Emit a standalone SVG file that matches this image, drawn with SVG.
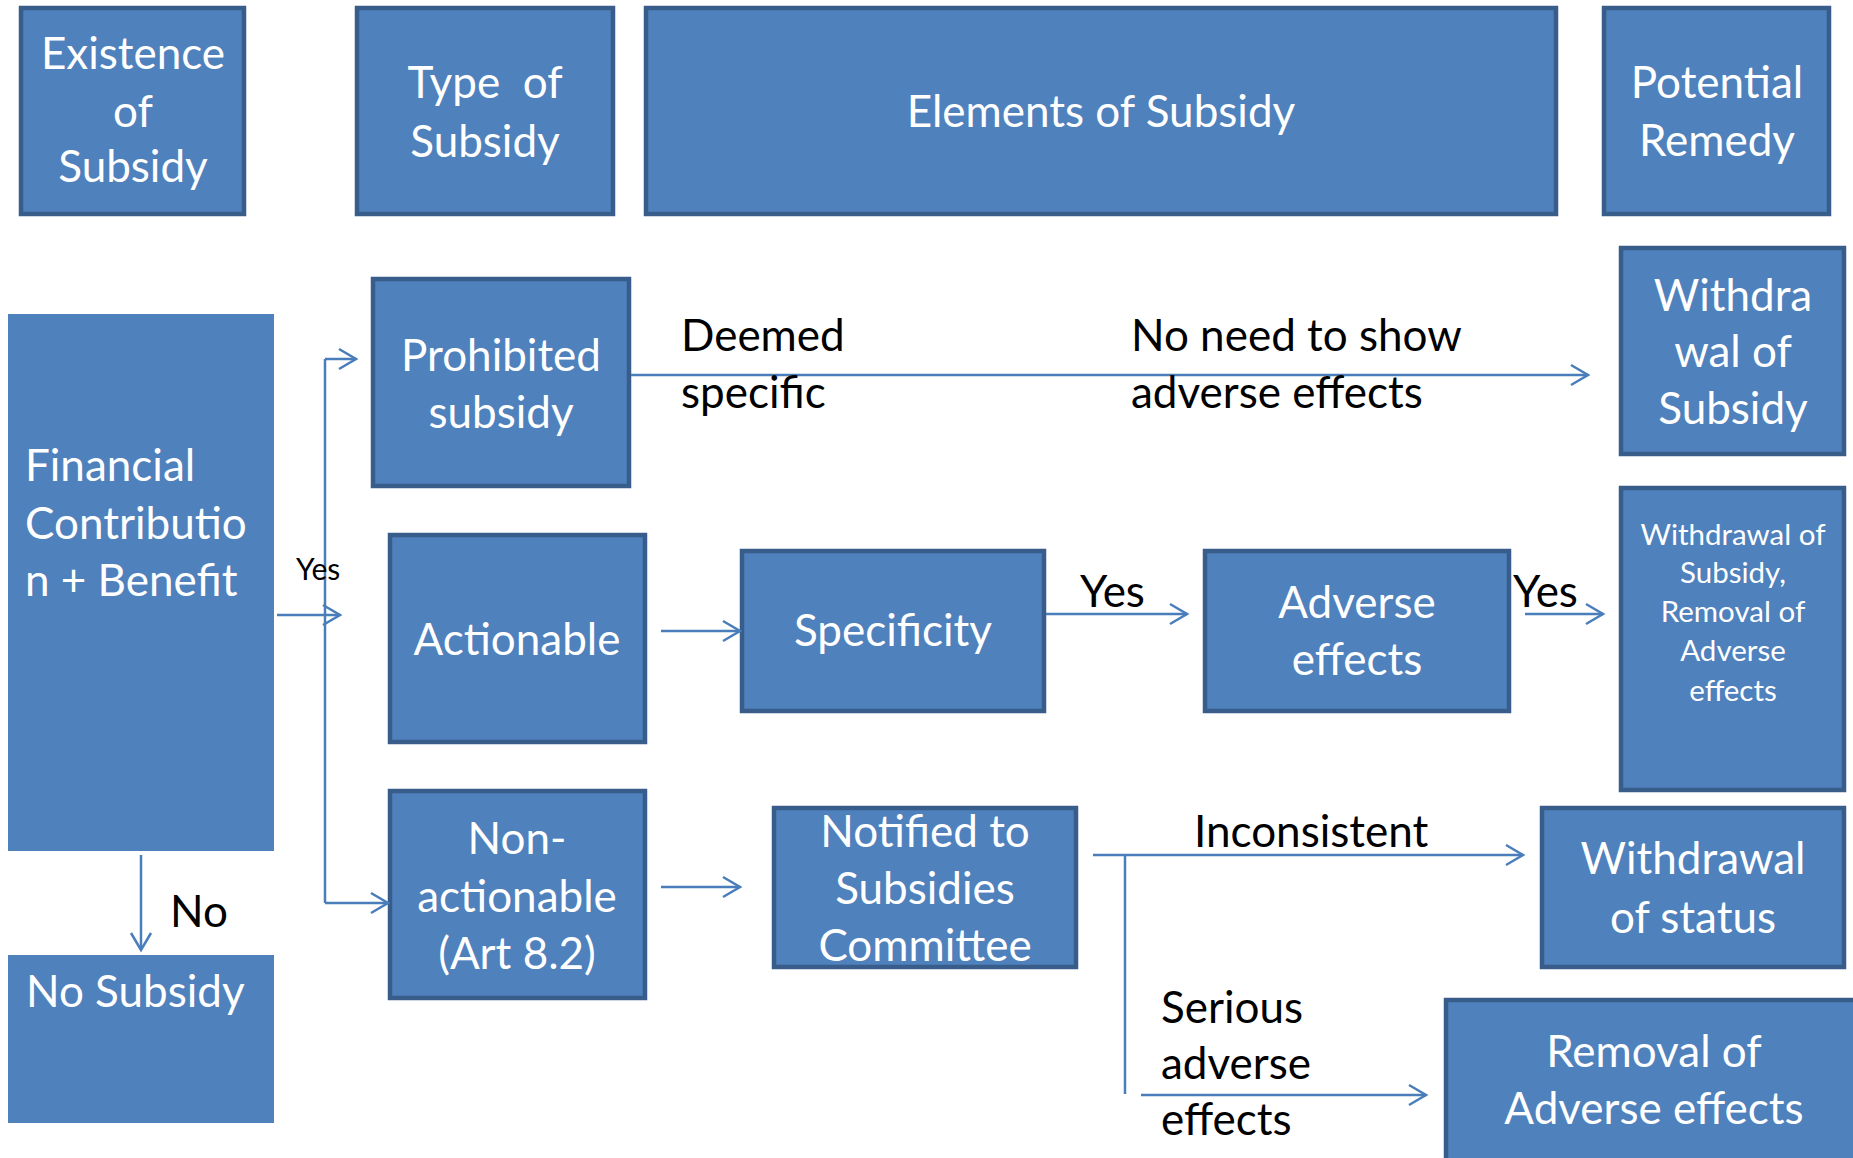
<svg xmlns="http://www.w3.org/2000/svg" width="1853" height="1158" viewBox="0 0 1853 1158">
<style>
.box{fill:#4f81bd;stroke:#385d8a;stroke-width:4.5}
.plain{fill:#4f81bd}
.wt{fill:#ffffff;font-family:Lato,"Liberation Sans",sans-serif;font-size:44px}
.ws{fill:#ffffff;font-family:Lato,"Liberation Sans",sans-serif;font-size:29.5px}
.c{text-anchor:middle}
.lb{fill:#000000;font-family:Lato,"Liberation Sans",sans-serif;font-size:44px}
.lbs{fill:#000000;font-family:Lato,"Liberation Sans",sans-serif;font-size:30px}
.ln{fill:none;stroke:#4a7ebb;stroke-width:2.5}
.arr{marker-end:url(#ah)}
</style>
<defs>
<marker id="ah" markerUnits="userSpaceOnUse" markerWidth="24" markerHeight="24" viewBox="-20 -12 24 24" refX="0" refY="0" orient="auto">
<path d="M-17,-10 L0,0 L-17,10" fill="none" stroke="#4a7ebb" stroke-width="2.5"/>
</marker>
</defs>
<rect width="1853" height="1158" fill="#ffffff"/>

<g id="existence">
<rect class="box" x="21" y="8" width="223" height="206"/>
<text class="wt c" x="133" y="69">Existence</text>
<text class="wt c" x="133" y="127">of</text>
<text class="wt c" x="133" y="182">Subsidy</text>
</g>
<g id="type">
<rect class="box" x="357" y="8" width="256" height="206"/>
<text class="wt c" x="485" y="98" xml:space="preserve">Type  of</text>
<text class="wt c" x="485" y="157">Subsidy</text>
</g>
<g id="elements">
<rect class="box" x="646" y="8" width="910" height="206"/>
<text class="wt c" x="1101" y="127">Elements of Subsidy</text>
</g>
<g id="potential">
<rect class="box" x="1604" y="8" width="225" height="206"/>
<text class="wt c" x="1717" y="98">Potential</text>
<text class="wt c" x="1717" y="156">Remedy</text>
</g>

<g id="financial">
<rect class="plain" x="8" y="314" width="266" height="537"/>
<text class="wt" x="25" y="481">Financial</text>
<text class="wt" x="25" y="539">Contributio</text>
<text class="wt" x="25" y="596">n + Benefit</text>
</g>
<g id="nosubsidy">
<rect class="plain" x="8" y="955" width="266" height="168"/>
<text class="wt" x="26" y="1007">No Subsidy</text>
</g>

<g id="prohibited">
<rect class="box" x="373" y="279" width="256" height="207"/>
<text class="wt c" x="501" y="371">Prohibited</text>
<text class="wt c" x="501" y="428">subsidy</text>
</g>
<g id="actionable">
<rect class="box" x="390" y="535" width="255" height="207"/>
<text class="wt c" x="517" y="655">Actionable</text>
</g>
<g id="nonactionable">
<rect class="box" x="390" y="791" width="255" height="207"/>
<text class="wt c" x="517" y="854">Non-</text>
<text class="wt c" x="517" y="912">actionable</text>
<text class="wt c" x="517" y="969">(Art 8.2)</text>
</g>

<g id="specificity">
<rect class="box" x="742" y="551" width="302" height="160"/>
<text class="wt c" x="893" y="646">Specificity</text>
</g>
<g id="adverse">
<rect class="box" x="1205" y="551" width="304" height="160"/>
<text class="wt c" x="1357" y="618">Adverse</text>
<text class="wt c" x="1357" y="675">effects</text>
</g>
<g id="notified">
<rect class="box" x="774" y="808" width="302" height="159"/>
<text class="wt c" x="925" y="847">Notified to</text>
<text class="wt c" x="925" y="904">Subsidies</text>
<text class="wt c" x="925" y="961">Committee</text>
</g>

<g id="withdrawal-subsidy">
<rect class="box" x="1621" y="248" width="223" height="206"/>
<text class="wt c" x="1733" y="311">Withdra</text>
<text class="wt c" x="1733" y="367">wal of</text>
<text class="wt c" x="1733" y="424">Subsidy</text>
</g>
<g id="withdrawal-removal">
<rect class="box" x="1621" y="488" width="223" height="302"/>
<text class="ws c" x="1733" y="545">Withdrawal of</text>
<text class="ws c" x="1733" y="583">Subsidy,</text>
<text class="ws c" x="1733" y="622">Removal of</text>
<text class="ws c" x="1733" y="661">Adverse</text>
<text class="ws c" x="1733" y="701">effects</text>
</g>
<g id="withdrawal-status">
<rect class="box" x="1542" y="808" width="302" height="159"/>
<text class="wt c" x="1693" y="874">Withdrawal</text>
<text class="wt c" x="1693" y="933">of status</text>
</g>
<g id="removal">
<rect class="box" x="1446" y="1000" width="420" height="170"/>
<text class="wt c" x="1654" y="1067">Removal of</text>
<text class="wt c" x="1654" y="1124">Adverse effects</text>
</g>

<g id="connectors">
<path class="ln arr" d="M277,615 L340,615"/>
<path class="ln" d="M325,359 L325,903"/>
<path class="ln arr" d="M325,359 L356,359"/>
<path class="ln arr" d="M325,903 L388,903"/>
<path class="ln arr" d="M141,855 L141,950"/>
<path class="ln arr" d="M631,375 L1588,375"/>
<path class="ln arr" d="M661,631 L740,631"/>
<path class="ln arr" d="M661,887 L740,887"/>
<path class="ln arr" d="M1046,614 L1187,614"/>
<path class="ln arr" d="M1525,614 L1603,614"/>
<path class="ln arr" d="M1093,855 L1523,855"/>
<path class="ln" d="M1125,855 L1125,1094"/>
<path class="ln arr" d="M1141,1095 L1426,1095"/>
</g>

<g id="labels">
<text class="lbs" x="296" y="580">Yes</text>
<text class="lb" x="170" y="927">No</text>
<text class="lb" x="681" y="351">Deemed</text>
<text class="lb" x="681" y="408">specific</text>
<text class="lb" x="1131" y="351">No need to show</text>
<text class="lb" x="1131" y="408">adverse effects</text>
<text class="lb" x="1080" y="607">Yes</text>
<text class="lb" x="1513" y="607">Yes</text>
<text class="lb" x="1194" y="847">Inconsistent</text>
<text class="lb" x="1161" y="1023">Serious</text>
<text class="lb" x="1161" y="1079">adverse</text>
<text class="lb" x="1161" y="1135">effects</text>
</g>
</svg>
